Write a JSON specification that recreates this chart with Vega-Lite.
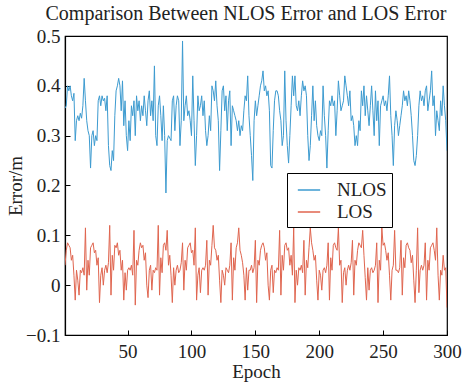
{
  "$schema": "https://vega.github.io/schema/vega-lite/v6.json",
  "width": 382,
  "height": 299,
  "autosize": "none",
  "padding": {"left": 65, "top": 36, "right": 21, "bottom": 48},
  "background": "white",
  "config": {
    "font": "Liberation Serif",
    "view": {"stroke": "black", "strokeWidth": 1.2},
    "style": {
      "guide-label": {"font": "Liberation Serif"},
      "guide-title": {"font": "Liberation Serif"},
      "group-title": {"font": "Liberation Serif"}
    }
  },
  "title": {
    "text": "Comparison Between NLOS Error and LOS Error",
    "font": "Liberation Serif",
    "fontSize": 20,
    "fontWeight": "normal",
    "color": "#222",
    "offset": 3,
    "dx": -10
  },
  "data": {
    "values": [
{"e":1,"NLOS":0.355,"LOS":0.04},{"e":2,"NLOS":0.36,"LOS":0.07},{"e":3,"NLOS":0.4,"LOS":0.085},{"e":4,"NLOS":0.39,"LOS":0.08},{"e":5,"NLOS":0.4,"LOS":0.075},{"e":6,"NLOS":0.38,"LOS":0.05},{"e":7,"NLOS":0.37,"LOS":0.06},{"e":8,"NLOS":0.385,"LOS":0.02},{"e":9,"NLOS":0.29,"LOS":-0.03},{"e":10,"NLOS":0.33,"LOS":0.03},
{"e":11,"NLOS":0.34,"LOS":0.01},{"e":12,"NLOS":0.33,"LOS":-0.02},{"e":13,"NLOS":0.345,"LOS":0.03},{"e":14,"NLOS":0.335,"LOS":0.025},{"e":15,"NLOS":0.36,"LOS":0.035},{"e":16,"NLOS":0.415,"LOS":0.02},{"e":17,"NLOS":0.37,"LOS":0.115},{"e":18,"NLOS":0.33,"LOS":-0.01},{"e":19,"NLOS":0.31,"LOS":0.05},{"e":20,"NLOS":0.3,"LOS":0.02},
{"e":21,"NLOS":0.235,"LOS":0.075},{"e":22,"NLOS":0.3,"LOS":0.08},{"e":23,"NLOS":0.31,"LOS":0.085},{"e":24,"NLOS":0.28,"LOS":0.065},{"e":25,"NLOS":0.3,"LOS":0.07},{"e":26,"NLOS":0.29,"LOS":0.04},{"e":27,"NLOS":0.37,"LOS":0.055},{"e":28,"NLOS":0.38,"LOS":-0.035},{"e":29,"NLOS":0.36,"LOS":0.02},{"e":30,"NLOS":0.38,"LOS":0.035},
{"e":31,"NLOS":0.37,"LOS":0.0},{"e":32,"NLOS":0.375,"LOS":0.03},{"e":33,"NLOS":0.35,"LOS":0.04},{"e":34,"NLOS":0.38,"LOS":0.025},{"e":35,"NLOS":0.28,"LOS":0.045},{"e":36,"NLOS":0.24,"LOS":0.12},{"e":37,"NLOS":0.23,"LOS":-0.02},{"e":38,"NLOS":0.27,"LOS":0.06},{"e":39,"NLOS":0.25,"LOS":0.03},{"e":40,"NLOS":0.34,"LOS":0.08},
{"e":41,"NLOS":0.39,"LOS":0.075},{"e":42,"NLOS":0.4,"LOS":0.085},{"e":43,"NLOS":0.415,"LOS":0.06},{"e":44,"NLOS":0.4,"LOS":0.07},{"e":45,"NLOS":0.35,"LOS":0.03},{"e":46,"NLOS":0.41,"LOS":0.05},{"e":47,"NLOS":0.32,"LOS":-0.03},{"e":48,"NLOS":0.37,"LOS":0.025},{"e":49,"NLOS":0.3,"LOS":-0.01},{"e":50,"NLOS":0.27,"LOS":0.03},
{"e":51,"NLOS":0.33,"LOS":0.035},{"e":52,"NLOS":0.29,"LOS":0.03},{"e":53,"NLOS":0.36,"LOS":0.04},{"e":54,"NLOS":0.34,"LOS":0.02},{"e":55,"NLOS":0.37,"LOS":0.11},{"e":56,"NLOS":0.3,"LOS":-0.04},{"e":57,"NLOS":0.38,"LOS":0.05},{"e":58,"NLOS":0.35,"LOS":0.04},{"e":59,"NLOS":0.37,"LOS":0.07},{"e":60,"NLOS":0.33,"LOS":0.085},
{"e":61,"NLOS":0.36,"LOS":0.075},{"e":62,"NLOS":0.34,"LOS":0.08},{"e":63,"NLOS":0.38,"LOS":0.05},{"e":64,"NLOS":0.35,"LOS":0.065},{"e":65,"NLOS":0.32,"LOS":0.0},{"e":66,"NLOS":0.37,"LOS":-0.025},{"e":67,"NLOS":0.39,"LOS":0.03},{"e":68,"NLOS":0.34,"LOS":0.04},{"e":69,"NLOS":0.37,"LOS":-0.01},{"e":70,"NLOS":0.33,"LOS":0.03},
{"e":71,"NLOS":0.44,"LOS":0.025},{"e":72,"NLOS":0.3,"LOS":0.035},{"e":73,"NLOS":0.28,"LOS":0.03},{"e":74,"NLOS":0.36,"LOS":0.12},{"e":75,"NLOS":0.38,"LOS":-0.02},{"e":76,"NLOS":0.34,"LOS":0.055},{"e":77,"NLOS":0.29,"LOS":0.025},{"e":78,"NLOS":0.36,"LOS":0.08},{"e":79,"NLOS":0.3,"LOS":0.085},{"e":80,"NLOS":0.185,"LOS":0.07},
{"e":81,"NLOS":0.29,"LOS":0.11},{"e":82,"NLOS":0.3,"LOS":0.04},{"e":83,"NLOS":0.295,"LOS":0.06},{"e":84,"NLOS":0.29,"LOS":0.02},{"e":85,"NLOS":0.37,"LOS":-0.035},{"e":86,"NLOS":0.38,"LOS":0.035},{"e":87,"NLOS":0.31,"LOS":0.0},{"e":88,"NLOS":0.36,"LOS":0.03},{"e":89,"NLOS":0.38,"LOS":0.04},{"e":90,"NLOS":0.37,"LOS":0.025},
{"e":91,"NLOS":0.28,"LOS":0.03},{"e":92,"NLOS":0.33,"LOS":0.045},{"e":93,"NLOS":0.49,"LOS":0.085},{"e":94,"NLOS":0.33,"LOS":-0.01},{"e":95,"NLOS":0.36,"LOS":0.05},{"e":96,"NLOS":0.38,"LOS":0.03},{"e":97,"NLOS":0.34,"LOS":0.075},{"e":98,"NLOS":0.35,"LOS":0.08},{"e":99,"NLOS":0.33,"LOS":0.085},{"e":100,"NLOS":0.3,"LOS":0.065},
{"e":101,"NLOS":0.42,"LOS":0.07},{"e":102,"NLOS":0.33,"LOS":0.04},{"e":103,"NLOS":0.24,"LOS":0.115},{"e":104,"NLOS":0.3,"LOS":-0.03},{"e":105,"NLOS":0.38,"LOS":0.02},{"e":106,"NLOS":0.35,"LOS":0.035},{"e":107,"NLOS":0.36,"LOS":-0.015},{"e":108,"NLOS":0.38,"LOS":0.03},{"e":109,"NLOS":0.34,"LOS":0.035},{"e":110,"NLOS":0.37,"LOS":0.03},
{"e":111,"NLOS":0.31,"LOS":0.04},{"e":112,"NLOS":0.28,"LOS":0.09},{"e":113,"NLOS":0.3,"LOS":-0.02},{"e":114,"NLOS":0.34,"LOS":0.05},{"e":115,"NLOS":0.31,"LOS":0.04},{"e":116,"NLOS":0.4,"LOS":0.08},{"e":117,"NLOS":0.39,"LOS":0.12},{"e":118,"NLOS":0.37,"LOS":0.075},{"e":119,"NLOS":0.41,"LOS":0.07},{"e":120,"NLOS":0.36,"LOS":0.05},
{"e":121,"NLOS":0.33,"LOS":0.06},{"e":122,"NLOS":0.23,"LOS":0.01},{"e":123,"NLOS":0.31,"LOS":-0.035},{"e":124,"NLOS":0.39,"LOS":0.03},{"e":125,"NLOS":0.4,"LOS":0.02},{"e":126,"NLOS":0.35,"LOS":0.0},{"e":127,"NLOS":0.38,"LOS":0.035},{"e":128,"NLOS":0.31,"LOS":0.03},{"e":129,"NLOS":0.37,"LOS":0.025},{"e":130,"NLOS":0.39,"LOS":0.04},
{"e":131,"NLOS":0.28,"LOS":0.085},{"e":132,"NLOS":0.36,"LOS":-0.03},{"e":133,"NLOS":0.35,"LOS":0.055},{"e":134,"NLOS":0.34,"LOS":0.03},{"e":135,"NLOS":0.33,"LOS":0.075},{"e":136,"NLOS":0.31,"LOS":0.085},{"e":137,"NLOS":0.33,"LOS":0.115},{"e":138,"NLOS":0.3,"LOS":0.07},{"e":139,"NLOS":0.32,"LOS":0.06},{"e":140,"NLOS":0.31,"LOS":0.045},
{"e":141,"NLOS":0.35,"LOS":0.02},{"e":142,"NLOS":0.38,"LOS":-0.03},{"e":143,"NLOS":0.37,"LOS":0.035},{"e":144,"NLOS":0.42,"LOS":-0.01},{"e":145,"NLOS":0.34,"LOS":0.03},{"e":146,"NLOS":0.3,"LOS":0.03},{"e":147,"NLOS":0.26,"LOS":0.04},{"e":148,"NLOS":0.21,"LOS":0.025},{"e":149,"NLOS":0.33,"LOS":0.035},{"e":150,"NLOS":0.37,"LOS":0.09},
{"e":151,"NLOS":0.34,"LOS":-0.035},{"e":152,"NLOS":0.36,"LOS":0.05},{"e":153,"NLOS":0.38,"LOS":0.04},{"e":154,"NLOS":0.4,"LOS":0.07},{"e":155,"NLOS":0.41,"LOS":0.08},{"e":156,"NLOS":0.43,"LOS":0.085},{"e":157,"NLOS":0.39,"LOS":0.075},{"e":158,"NLOS":0.4,"LOS":0.05},{"e":159,"NLOS":0.38,"LOS":0.065},{"e":160,"NLOS":0.39,"LOS":0.0},
{"e":161,"NLOS":0.35,"LOS":-0.03},{"e":162,"NLOS":0.24,"LOS":0.03},{"e":163,"NLOS":0.235,"LOS":0.04},{"e":164,"NLOS":0.31,"LOS":-0.015},{"e":165,"NLOS":0.37,"LOS":0.03},{"e":166,"NLOS":0.39,"LOS":0.025},{"e":167,"NLOS":0.39,"LOS":0.035},{"e":168,"NLOS":0.38,"LOS":0.03},{"e":169,"NLOS":0.35,"LOS":0.11},{"e":170,"NLOS":0.33,"LOS":-0.02},
{"e":171,"NLOS":0.28,"LOS":0.06},{"e":172,"NLOS":0.3,"LOS":0.03},{"e":173,"NLOS":0.43,"LOS":0.08},{"e":174,"NLOS":0.33,"LOS":0.085},{"e":175,"NLOS":0.28,"LOS":0.07},{"e":176,"NLOS":0.245,"LOS":0.075},{"e":177,"NLOS":0.3,"LOS":0.04},{"e":178,"NLOS":0.36,"LOS":0.06},{"e":179,"NLOS":0.42,"LOS":0.02},{"e":180,"NLOS":0.38,"LOS":0.115},
{"e":181,"NLOS":0.42,"LOS":-0.035},{"e":182,"NLOS":0.36,"LOS":0.03},{"e":183,"NLOS":0.35,"LOS":0.0},{"e":184,"NLOS":0.37,"LOS":0.035},{"e":185,"NLOS":0.34,"LOS":0.03},{"e":186,"NLOS":0.38,"LOS":0.04},{"e":187,"NLOS":0.41,"LOS":0.025},{"e":188,"NLOS":0.39,"LOS":0.09},{"e":189,"NLOS":0.4,"LOS":-0.02},{"e":190,"NLOS":0.38,"LOS":0.05},
{"e":191,"NLOS":0.3,"LOS":0.035},{"e":192,"NLOS":0.25,"LOS":0.075},{"e":193,"NLOS":0.28,"LOS":0.115},{"e":194,"NLOS":0.34,"LOS":0.085},{"e":195,"NLOS":0.4,"LOS":0.07},{"e":196,"NLOS":0.33,"LOS":0.05},{"e":197,"NLOS":0.37,"LOS":0.06},{"e":198,"NLOS":0.32,"LOS":0.01},{"e":199,"NLOS":0.3,"LOS":-0.03},{"e":200,"NLOS":0.29,"LOS":0.03},
{"e":201,"NLOS":0.31,"LOS":0.02},{"e":202,"NLOS":0.3,"LOS":-0.01},{"e":203,"NLOS":0.4,"LOS":0.03},{"e":204,"NLOS":0.34,"LOS":0.035},{"e":205,"NLOS":0.3,"LOS":0.025},{"e":206,"NLOS":0.235,"LOS":0.04},{"e":207,"NLOS":0.31,"LOS":0.085},{"e":208,"NLOS":0.37,"LOS":-0.03},{"e":209,"NLOS":0.36,"LOS":0.055},{"e":210,"NLOS":0.38,"LOS":0.03},
{"e":211,"NLOS":0.36,"LOS":0.08},{"e":212,"NLOS":0.37,"LOS":0.085},{"e":213,"NLOS":0.3,"LOS":0.075},{"e":214,"NLOS":0.35,"LOS":0.07},{"e":215,"NLOS":0.41,"LOS":0.115},{"e":216,"NLOS":0.38,"LOS":0.04},{"e":217,"NLOS":0.35,"LOS":0.05},{"e":218,"NLOS":0.36,"LOS":-0.035},{"e":219,"NLOS":0.37,"LOS":0.025},{"e":220,"NLOS":0.42,"LOS":0.035},
{"e":221,"NLOS":0.4,"LOS":0.0},{"e":222,"NLOS":0.38,"LOS":0.03},{"e":223,"NLOS":0.36,"LOS":0.04},{"e":224,"NLOS":0.39,"LOS":0.03},{"e":225,"NLOS":0.33,"LOS":0.045},{"e":226,"NLOS":0.34,"LOS":0.09},{"e":227,"NLOS":0.32,"LOS":-0.02},{"e":228,"NLOS":0.28,"LOS":0.05},{"e":229,"NLOS":0.3,"LOS":0.04},{"e":230,"NLOS":0.28,"LOS":0.07},
{"e":231,"NLOS":0.33,"LOS":0.085},{"e":232,"NLOS":0.31,"LOS":0.08},{"e":233,"NLOS":0.39,"LOS":0.075},{"e":234,"NLOS":0.36,"LOS":0.11},{"e":235,"NLOS":0.4,"LOS":0.06},{"e":236,"NLOS":0.34,"LOS":0.015},{"e":237,"NLOS":0.38,"LOS":-0.03},{"e":238,"NLOS":0.35,"LOS":0.035},{"e":239,"NLOS":0.32,"LOS":-0.01},{"e":240,"NLOS":0.36,"LOS":0.03},
{"e":241,"NLOS":0.4,"LOS":0.035},{"e":242,"NLOS":0.35,"LOS":0.025},{"e":243,"NLOS":0.3,"LOS":0.03},{"e":244,"NLOS":0.39,"LOS":0.04},{"e":245,"NLOS":0.33,"LOS":0.085},{"e":246,"NLOS":0.37,"LOS":-0.035},{"e":247,"NLOS":0.28,"LOS":0.05},{"e":248,"NLOS":0.36,"LOS":0.03},{"e":249,"NLOS":0.37,"LOS":0.115},{"e":250,"NLOS":0.38,"LOS":0.08},
{"e":251,"NLOS":0.36,"LOS":0.085},{"e":252,"NLOS":0.37,"LOS":0.07},{"e":253,"NLOS":0.35,"LOS":0.05},{"e":254,"NLOS":0.38,"LOS":0.065},{"e":255,"NLOS":0.42,"LOS":0.02},{"e":256,"NLOS":0.34,"LOS":-0.03},{"e":257,"NLOS":0.3,"LOS":0.03},{"e":258,"NLOS":0.24,"LOS":0.04},{"e":259,"NLOS":0.32,"LOS":0.11},{"e":260,"NLOS":0.35,"LOS":0.03},
{"e":261,"NLOS":0.33,"LOS":0.03},{"e":262,"NLOS":0.3,"LOS":0.025},{"e":263,"NLOS":0.32,"LOS":0.035},{"e":264,"NLOS":0.34,"LOS":0.09},{"e":265,"NLOS":0.36,"LOS":-0.02},{"e":266,"NLOS":0.39,"LOS":0.055},{"e":267,"NLOS":0.37,"LOS":0.035},{"e":268,"NLOS":0.38,"LOS":0.08},{"e":269,"NLOS":0.36,"LOS":0.085},{"e":270,"NLOS":0.39,"LOS":0.075},
{"e":271,"NLOS":0.37,"LOS":0.07},{"e":272,"NLOS":0.34,"LOS":0.045},{"e":273,"NLOS":0.3,"LOS":0.06},{"e":274,"NLOS":0.25,"LOS":0.01},{"e":275,"NLOS":0.24,"LOS":-0.035},{"e":276,"NLOS":0.26,"LOS":0.03},{"e":277,"NLOS":0.3,"LOS":0.115},{"e":278,"NLOS":0.36,"LOS":-0.015},{"e":279,"NLOS":0.39,"LOS":0.03},{"e":280,"NLOS":0.37,"LOS":0.04},
{"e":281,"NLOS":0.38,"LOS":0.03},{"e":282,"NLOS":0.36,"LOS":0.04},{"e":283,"NLOS":0.39,"LOS":0.085},{"e":284,"NLOS":0.4,"LOS":-0.03},{"e":285,"NLOS":0.35,"LOS":0.05},{"e":286,"NLOS":0.37,"LOS":0.03},{"e":287,"NLOS":0.39,"LOS":0.075},{"e":288,"NLOS":0.43,"LOS":0.08},{"e":289,"NLOS":0.36,"LOS":0.085},{"e":290,"NLOS":0.38,"LOS":0.07},
{"e":291,"NLOS":0.3,"LOS":0.05},{"e":292,"NLOS":0.35,"LOS":0.115},{"e":293,"NLOS":0.33,"LOS":0.02},{"e":294,"NLOS":0.31,"LOS":-0.03},{"e":295,"NLOS":0.37,"LOS":0.03},{"e":296,"NLOS":0.34,"LOS":0.02},{"e":297,"NLOS":0.4,"LOS":0.06},{"e":298,"NLOS":0.36,"LOS":0.03},{"e":299,"NLOS":0.33,"LOS":0.035},{"e":300,"NLOS":0.27,"LOS":-0.045}
    ]
  },
  "transform": [{"fold": ["NLOS", "LOS"], "as": ["series", "value"]}],
  "mark": {"type": "line", "strokeWidth": 1, "clip": true},
  "encoding": {
    "x": {
      "field": "e", "type": "quantitative",
      "scale": {"domain": [1, 300], "nice": false, "zero": false},
      "axis": {
        "title": "Epoch", "values": [50, 100, 150, 200, 250, 300],
        "grid": false, "domainColor": "black", "domainWidth": 1.2,
        "tickColor": "black", "tickSize": -5, "labelPadding": 12,
        "labelFont": "Liberation Serif", "labelFontSize": 19, "labelColor": "#222",
        "titleFont": "Liberation Serif", "titleFontSize": 19, "titleFontWeight": "normal", "titleColor": "#222", "titlePadding": 1,
        "labelFlush": false
      }
    },
    "y": {
      "field": "value", "type": "quantitative",
      "scale": {"domain": [-0.1, 0.5], "nice": false, "zero": false},
      "axis": {
        "title": "Error/m", "values": [-0.1, 0, 0.1, 0.2, 0.3, 0.4, 0.5],
        "labelExpr": "datum.value == 0 ? '0' : format(datum.value, '.1f')",
        "grid": false, "domainColor": "black", "domainWidth": 1.2,
        "tickColor": "black", "tickSize": -5, "labelPadding": 10,
        "labelFont": "Liberation Serif", "labelFontSize": 19, "labelColor": "#222",
        "titleFont": "Liberation Serif", "titleFontSize": 19, "titleFontWeight": "normal", "titleColor": "#222", "titlePadding": 0,
        "labelFlush": false
      }
    },
    "color": {
      "field": "series", "type": "nominal",
      "scale": {"domain": ["NLOS", "LOS"], "range": ["#3d9bd0", "#e0654f"]},
      "legend": {
        "title": null, "orient": "none", "legendX": 222, "legendY": 137,
        "symbolType": "stroke", "symbolSize": 500, "symbolStrokeWidth": 1.5, "symbolOffset": 5,
        "labelFont": "Liberation Serif", "labelFontSize": 19, "labelColor": "#222",
        "strokeColor": "black", "padding": 5, "rowPadding": 0,
        "fillColor": "white", "labelOffset": 16
      }
    }
  }
}
